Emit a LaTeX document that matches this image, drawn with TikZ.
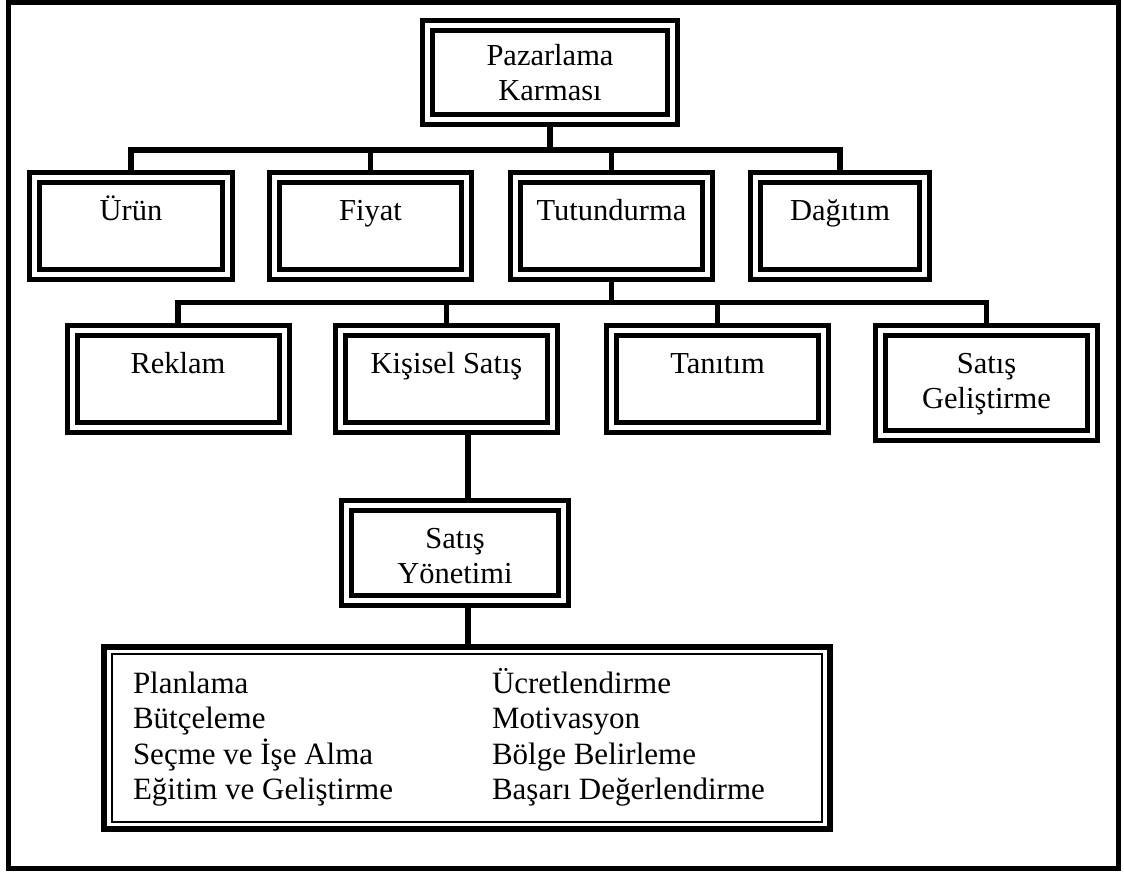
\documentclass[tikz,border=0pt]{standalone}
\usepackage{fontspec}
\setmainfont{Liberation Serif}
\usetikzlibrary{backgrounds}

\begin{document}
\begin{tikzpicture}[x=0.5pt,y=-0.5pt,
  every node/.style={inner sep=0pt, outer sep=0pt},
  % framed box: two 5px strokes with a 5px white gap, text hung from the top
  framebox/.style={draw, fill=white, line width=2.5pt, double=white,
    double distance=2.5pt, align=center, minimum height=0pt,
    font=\fontsize{15.25pt}{17.5pt}\selectfont, text height=21.25pt},
  conn/.style={line width=2.75pt, line join=miter},
  listtxt/.style={align=left, font=\fontsize{15.5pt}{17.75pt}\selectfont}
]
\useasboundingbox (0,0) rectangle (1124,873);

% outer frame
\draw[line width=2.5pt] (8,2.5) rectangle (1118.5,868.5);

% top
\node[framebox, minimum width=122.5pt, text height=37.25pt, text depth=9.75pt]
  (pk) at (550,72.5) {Pazarlama\\Karması};

% first level
\node[framebox, minimum width=96.5pt, text depth=27.25pt] (urun) at (131,226) {Ürün};
\node[framebox, minimum width=96pt, text depth=27.25pt] (fiyat) at (370.5,226) {Fiyat};
\node[framebox, minimum width=96pt, text depth=27.25pt] (tut) at (611.5,226) {Tutundurma};
\node[framebox, minimum width=84.5pt, text depth=27.25pt] (dag) at (840,226) {Dağıtım};

% second level
\node[framebox, minimum width=106pt, text depth=27.25pt] (rek) at (178,379) {Reklam};
\node[framebox, minimum width=106pt, text depth=27.25pt] (ks) at (446.5,379) {Kişisel Satış};
\node[framebox, minimum width=106pt, text depth=27.25pt] (tan) at (717.5,379) {Tanıtım};
\node[framebox, minimum width=106pt, text height=38.75pt, text depth=13.75pt]
  (sg) at (986.5,383) {Satış\\Geliştirme};

% sales management
\node[framebox, minimum width=108.5pt, text height=38.75pt, text depth=8.75pt]
  (sy) at (455,553) {Satış\\Yönetimi};

% task list box: heavy outer rule, thin inner rule
\node[draw, fill=white, line width=3pt, minimum width=362.75pt, minimum height=91.25pt]
  (mgmt) at (466.75,737.75) {};
\draw[line width=1pt] ([shift={(7.5,7.5)}]mgmt.north west) rectangle ([shift={(-7.5,-7.5)}]mgmt.south east);
\node[listtxt, anchor=base west] (colA) at (133,799.5)
  {Planlama\\Bütçeleme\\Seçme ve İşe Alma\\Eğitim ve Geliştirme};
\node[listtxt, anchor=base west] (colB) at (492,799.5)
  {Ücretlendirme\\Motivasyon\\Bölge Belirleme\\Başarı Değerlendirme};

% connectors
\coordinate (bus1) at (0,150);
\coordinate (bus2) at (0,302.5);
\coordinate (spine) at (468,0);
\begin{scope}[on background layer]
  \draw[conn] (urun.north) |- (dag.north |- bus1) -- (dag.north);
  \draw[conn] (pk.south) -- (pk.south |- bus1);
  \draw[conn] (fiyat.north) -- (fiyat.north |- bus1);
  \draw[conn] (tut.north) -- (tut.north |- bus1);
  \draw[conn] (tut.south) -- (tut.south |- bus2);
  \draw[conn] (rek.north) |- (sg.north |- bus2) -- (sg.north);
  \draw[conn] (ks.north) -- (ks.north |- bus2);
  \draw[conn] (tan.north) -- (tan.north |- bus2);
  \draw[conn] (spine |- ks.south) -- (spine |- sy.north);
  \draw[conn] (spine |- sy.south) -- (spine |- mgmt.north);
\end{scope}
\end{tikzpicture}
\end{document}
